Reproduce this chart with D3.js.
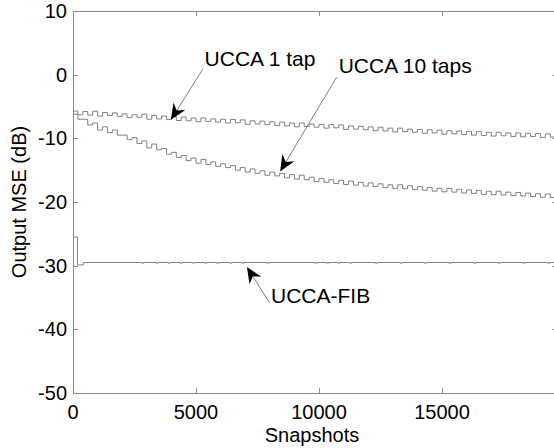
<!DOCTYPE html>
<html>
<head>
<meta charset="utf-8">
<script src="https://cdn.jsdelivr.net/npm/d3@7"></script>
<style>
body{margin:0;background:#fff;overflow:hidden}
text{font-family:"Liberation Sans",Arial,sans-serif}
</style>
</head>
<body>
<div id="chart"></div>
<script>
// step values every 200 snapshots (0 .. 19600)
var stepSnapshots = d3.range(0, 19700, 200)
var ucca1tap = [
-5.7,-6.3,-5.8,-6.35,-5.75,   -6.5,-5.95,-6.4,-6.0,-6.55,
-6.15,-6.75,-6.3,-6.7,-6.2,   -7.0,-6.4,-6.95,-6.5,-7.05,
-6.6,-7.2,-6.65,-7.25,-6.8,   -7.4,-6.8,-7.35,-6.95,-7.45,
-7.0,-7.6,-7.05,-7.55,-7.1,   -7.8,-7.25,-7.75,-7.3,-7.85,
-7.4,-8.0,-7.45,-8.05,-7.6,   -8.2,-7.6,-8.15,-7.75,-8.25,
-7.8,-8.4,-7.85,-8.35,-7.9,   -8.6,-8.05,-8.55,-8.1,-8.65,
-8.2,-8.8,-8.25,-8.85,-8.4,   -9.0,-8.4,-8.95,-8.55,-9.05,
-8.6,-9.2,-8.65,-9.15,-8.7,   -9.35,-8.8,-9.3,-8.85,-9.4,
-8.9,-9.5,-8.95,-9.55,-9.05,  -9.65,-9.05,-9.6,-9.15,-9.7,
-9.15,-9.75,-9.2,-9.7,-9.25,  -9.85,-9.3,-9.8,-9.35]
var ucca10taps = [
-6.2,-7.0,-7.0,-7.9,-7.6,     -8.7,-8.2,-9.1,-8.7,-9.5,
-9.5,-10.2,-9.9,-10.8,-10.4,  -11.5,-10.9,-11.8,-11.6,-12.5,
-12.2,-13.0,-12.7,-13.5,-13.1, -13.9,-13.3,-14.1,-13.7,-14.4,
-14.0,-14.6,-14.3,-15.0,-14.6, -15.3,-14.8,-15.5,-15.1,-15.8,
-15.3,-15.9,-15.5,-16.2,-15.7, -16.4,-15.8,-16.5,-16.1,-16.8,
-16.3,-16.9,-16.5,-17.1,-16.6, -17.25,-16.7,-17.35,-16.9,-17.5,
-17.0,-17.55,-17.15,-17.75,-17.3, -17.85,-17.3,-17.9,-17.45,-18.05,
-17.6,-18.15,-17.7,-18.3,-17.85, -18.4,-17.85,-18.45,-18.0,-18.6,
-18.1,-18.65,-18.2,-18.8,-18.3, -18.85,-18.3,-18.9,-18.45,-19.0,
-18.5,-19.05,-18.6,-19.15,-18.7, -19.25,-18.75,-19.3,-18.85]
// UCCA-FIB: start level, then flat level with small dips
var fibSnapshots = [0, 180, 420]
var fibValues = [-25.5, -29.9, -29.5]
var fibDips = [2800,3400,3860,4350,4870,5360,5850,6380,6860,7880,9830,10320,10760,11250,12300,13300,14300,15300,16300,17300,18300,19300]

var xTicks = [0, 5000, 10000, 15000]
var yTicks = [10, 0, -10, -20, -30, -40, -50]

var annotations = [
  {label:"UCCA 1 tap", textX:5350, textY:1.3, tailX:5280, tailY:0.9, tipX:3980, tipY:-7.1},
  {label:"UCCA 10 taps", textX:10800, textY:0.2, tailX:10720, tailY:-0.4, tipX:8420, tipY:-15.2},
  {label:"UCCA-FIB", textX:8050, textY:-35.8, tailX:8000, tailY:-35.9, tipX:7070, tipY:-30.2}
]

var W = 554, H = 448
var m = {left:73, top:11, right:557.6, bottom:393}
var axisColor = "#8a8a8a", lineColor = "#808080"

var svg = d3.select("#chart").append("svg").attr("width",W).attr("height",H)

var x = d3.scaleLinear().domain([0,19700]).range([m.left,m.right])
var y = d3.scaleLinear().domain([-50,10]).range([m.bottom,m.top])

svg.append("clipPath").attr("id","clip").append("rect")
	.attr("x",m.left).attr("y",m.top).attr("width",m.right-m.left).attr("height",m.bottom-m.top)

function stepData(vals){
	var d = vals.map(function(v,i){return [stepSnapshots[i],v]})
	d.push([19700, vals[vals.length-1]])
	return d
}
var fibData = fibSnapshots.map(function(s,i){return [s,fibValues[i]]})
fibDips.forEach(function(s){
	fibData.push([s,-29.62]); fibData.push([s+70,-29.5])
})
fibData.push([19700,-29.5])

var line = d3.line().x(function(d){return x(d[0])}).y(function(d){return y(d[1])}).curve(d3.curveStepAfter)

var g = svg.append("g").attr("clip-path","url(#clip)")
;[stepData(ucca1tap), stepData(ucca10taps), fibData].forEach(function(d){
	g.append("path").attr("d",line(d)).attr("fill","none").attr("stroke",lineColor).attr("stroke-width",1)
})

// axes (box with inward ticks)
var ax = svg.append("g").attr("stroke",axisColor).attr("stroke-width",1).attr("fill","none")
ax.append("rect").attr("x",m.left+0.5).attr("y",m.top+0.5).attr("width",m.right-m.left).attr("height",m.bottom-m.top)
xTicks.forEach(function(t){
	var px = Math.round(x(t))+0.5
	ax.append("line").attr("x1",px).attr("x2",px).attr("y1",m.bottom).attr("y2",m.bottom-5)
	ax.append("line").attr("x1",px).attr("x2",px).attr("y1",m.top).attr("y2",m.top+5)
})
yTicks.forEach(function(t){
	var py = Math.round(y(t))+0.5
	ax.append("line").attr("x1",m.left).attr("x2",m.left+5).attr("y1",py).attr("y2",py)
	ax.append("line").attr("x1",m.right).attr("x2",m.right-5).attr("y1",py).attr("y2",py)
})

svg.selectAll(".xt").data(xTicks).enter().append("text")
	.attr("x",function(d){return x(d)}).attr("y",m.bottom+26)
	.attr("text-anchor","middle").attr("font-size",20).text(function(d){return d})
svg.selectAll(".yt").data(yTicks).enter().append("text")
	.attr("x",m.left-6).attr("y",function(d){return y(d)+7})
	.attr("text-anchor","end").attr("font-size",20).text(function(d){return d})

svg.append("text").attr("x",312).attr("y",442)
	.attr("text-anchor","middle").attr("font-size",20).text("Snapshots")
svg.append("text").attr("transform","translate(26,"+((m.top+m.bottom)/2)+") rotate(-90)")
	.attr("text-anchor","middle").attr("font-size",20).text("Output MSE (dB)")

// annotations
annotations.forEach(function(a){
	var x0 = x(a.tailX), y0 = y(a.tailY), x1 = x(a.tipX), y1 = y(a.tipY)
	var ang = Math.atan2(y1-y0, x1-x0)
	var len = 16, half = 7, notch = 11
	function pt(along, side){
		return [x1 - along*Math.cos(ang) - side*Math.sin(ang), y1 - along*Math.sin(ang) + side*Math.cos(ang)]
	}
	var base = pt(notch,0)
	svg.append("line").attr("x1",x0).attr("y1",y0).attr("x2",base[0]).attr("y2",base[1])
		.attr("stroke",lineColor).attr("stroke-width",1)
	svg.append("path").attr("d","M"+[[x1,y1],pt(len,half),pt(notch,0),pt(len,-half)].join("L")+"Z")
		.attr("fill","#000")
	svg.append("text").attr("x",x(a.textX)).attr("y",y(a.textY)).attr("font-size",21)
		.text(a.label)
})
</script>
</body>
</html>
